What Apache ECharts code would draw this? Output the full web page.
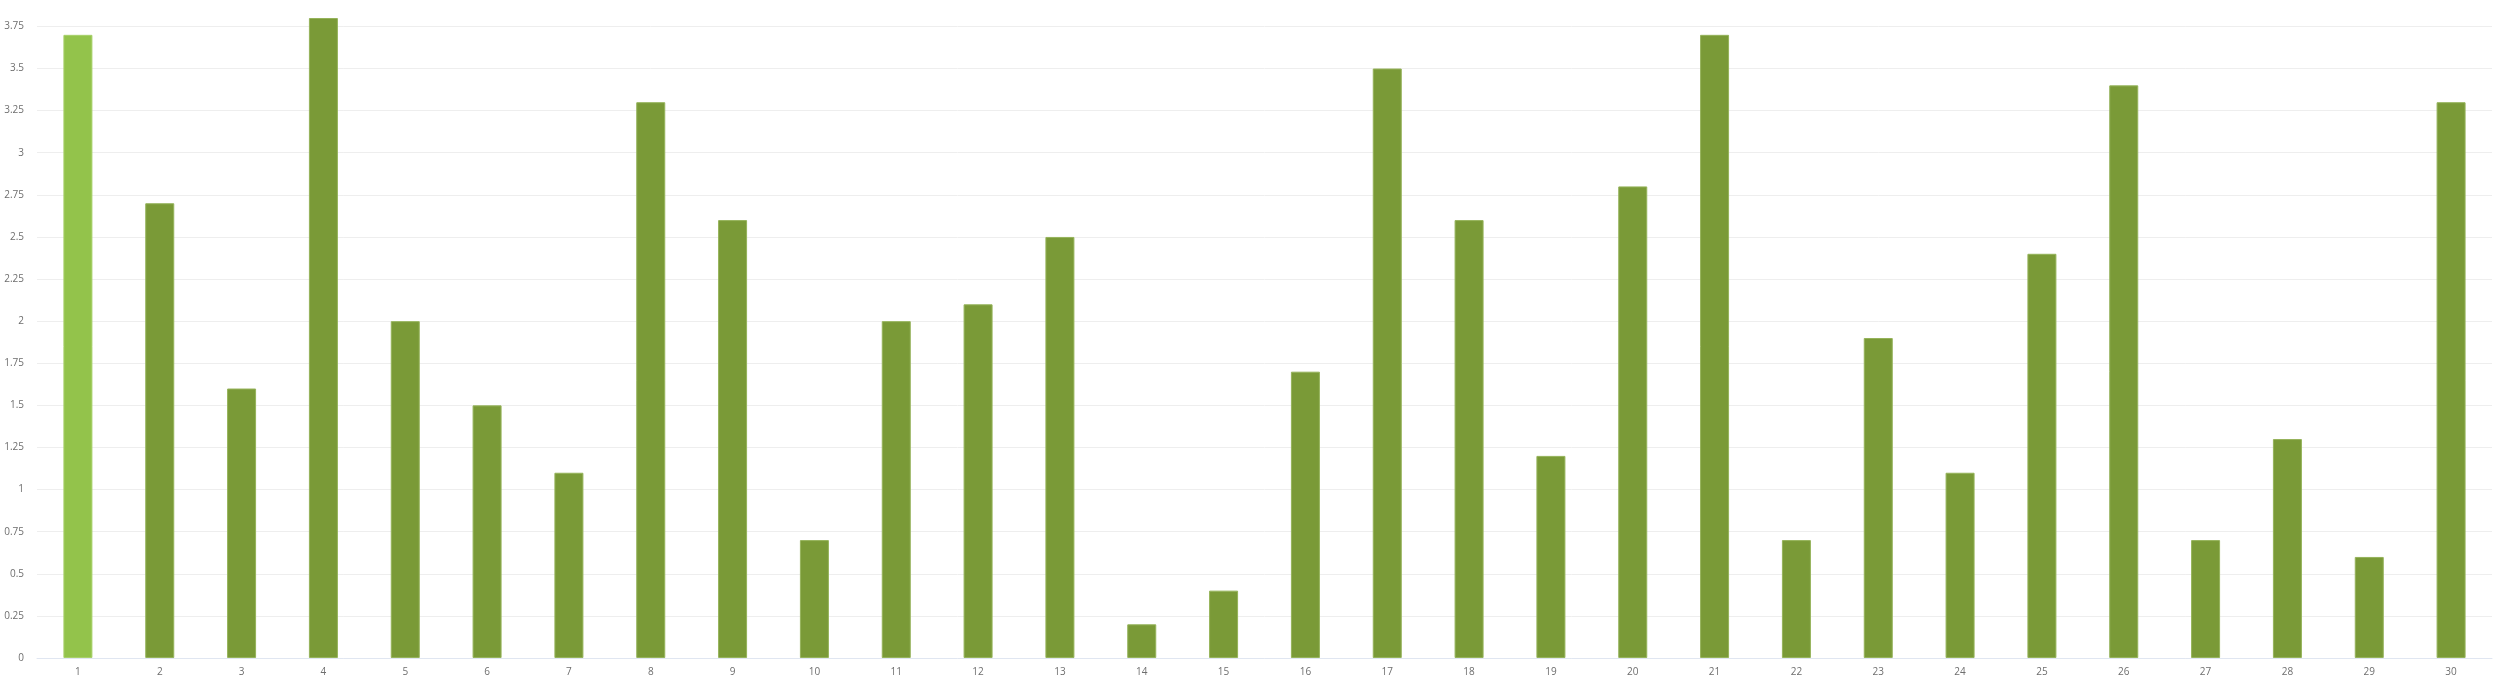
<!DOCTYPE html>
<html lang="en">
<head>
    <meta charset="UTF-8">
    <title>Bar chart</title>
    <style>
        html, body { margin: 0; padding: 0; background: #fff; }
        #container { width: 2500px; height: 683px; }
    </style>
    <script src="https://cdn.jsdelivr.net/npm/echarts@6/dist/echarts.min.js"></script>
</head>
<body>
<div id="container"></div>
<script type="text/javascript">
    // categories 1..30
    var categories = ['1', '2', '3', '4', '5', '6', '7', '8', '9', '10',
        '11', '12', '13', '14', '15', '16', '17', '18', '19', '20',
        '21', '22', '23', '24', '25', '26', '27', '28', '29', '30'];
    var values = [3.7, 2.7, 1.6, 3.8, 2.0, 1.5, 1.1, 3.3, 2.6, 0.7,
        2.0, 2.1, 2.5, 0.2, 0.4, 1.7, 3.5, 2.6, 1.2, 2.8,
        3.7, 0.7, 1.9, 1.1, 2.4, 3.4, 0.7, 1.3, 0.6, 3.3];
    var highlighted = 0; // first bar drawn lighter

    var myChart = echarts.init(document.getElementById('container'));

    var option = {
        animation: false,
        grid: { left: 37, right: 8, top: 18, bottom: 25, containLabel: false },
        xAxis: {
            type: 'category',
            data: categories,
            axisTick: { show: false },
            axisLine: { lineStyle: { color: '#e0e6f1' } },
            axisLabel: {
                color: '#6e6e6e', fontSize: 10, margin: 9, fontFamily: 'Open Sans',
                align: 'center', interval: 0
            }
        },
        yAxis: {
            type: 'value',
            min: 0,
            max: 3.8,
            interval: 0.25,
            axisLabel: { color: '#6e6e6e', fontSize: 10, margin: 13, showMaxLabel: false, fontFamily: 'Open Sans' },
            splitLine: { showMaxLine: false, lineStyle: { color: '#eeeeee' } }
        },
        series: [{
            type: 'bar',
            barWidth: 29,
            data: values.map(function (v, i) {
                return {
                    value: v,
                    itemStyle: i === highlighted
                        ? { color: '#93c34b', borderColor: '#a8d06a', borderWidth: 1 }
                        : { color: '#7a9a37', borderColor: '#95b35a', borderWidth: 1 }
                };
            })
        }]
    };

    myChart.setOption(option);
</script>
</body>
</html>
